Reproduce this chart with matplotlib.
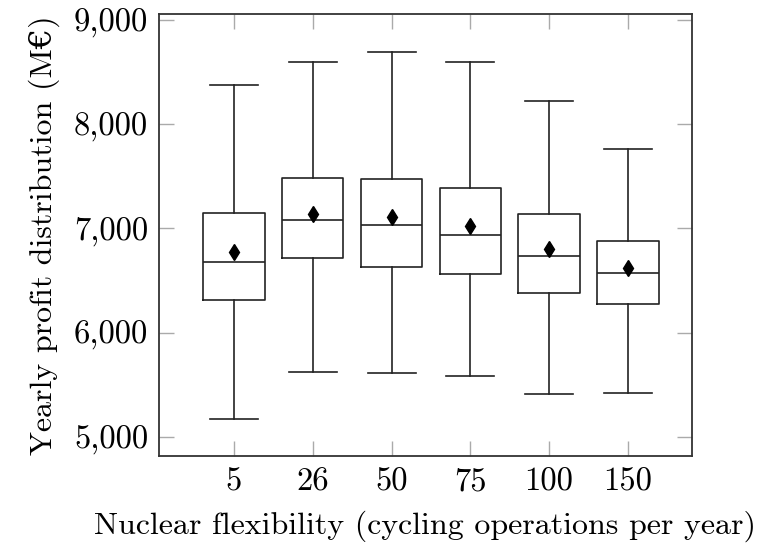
import matplotlib
matplotlib.use('Agg')
import matplotlib.pyplot as plt

# cycling operations per year
categories = ['5', '26', '50', '75', '100', '150']
whislo = [5167, 5618, 5612, 5585, 5406, 5419]
q1 = [6314, 6712, 6627, 6560, 6382, 6276]
med = [6674, 7080, 7032, 6940, 6739, 6572]
q3 = [7144, 7481, 7475, 7384, 7138, 6881]
whishi = [8379, 8594, 8695, 8598, 8223, 7761]
means = [6770, 7138, 7109, 7024, 6798, 6623]

plt.rcParams['font.family'] = ['cmr10', 'DejaVu Serif']
plt.rcParams['mathtext.fontset'] = 'cm'
plt.rcParams['axes.formatter.use_mathtext'] = True

stats = []
for i, c in enumerate(categories):
    stats.append({'label': c, 'whislo': whislo[i], 'q1': q1[i], 'med': med[i],
                  'q3': q3[i], 'whishi': whishi[i], 'mean': means[i], 'fliers': []})

fig = plt.figure(figsize=(7.63, 5.44), dpi=100)
ax = fig.add_axes([0.2088, 0.1618, 0.6977, 0.8125])

lw = 1.2
ax.bxp(stats, positions=range(1, 7), widths=0.78, showmeans=True, showfliers=False,
       boxprops=dict(color='#222222', linewidth=lw),
       whiskerprops=dict(color='#222222', linewidth=lw),
       capprops=dict(color='#222222', linewidth=lw),
       medianprops=dict(color='#222222', linewidth=lw),
       meanprops=dict(marker='d', markerfacecolor='black', markeredgecolor='black', markersize=8),
       capwidths=0.61)

ax.set_xlim(0.052, 6.81)
ax.set_ylim(4815, 9058)
ax.set_yticks([5000, 6000, 7000, 8000, 9000])
ax.set_yticklabels(['5,000', '6,000', '7,000', '8,000', '9,000'])
ax.set_xticks(range(1, 7))
ax.set_xticklabels(categories)

ax.tick_params(direction='in', length=11, width=1.0, color='#aaaaaa', labelsize=23.5,
               top=True, right=True, pad=8)
for s in ax.spines.values():
    s.set_color('#333333')
    s.set_linewidth(1.3)

ax.set_xlabel('Nuclear flexibility (cycling operations per year)', fontsize=23, labelpad=10)
ax.set_ylabel('Yearly profit distribution (M€)', fontsize=23, labelpad=10)

fig.savefig('out.png', dpi=100)
